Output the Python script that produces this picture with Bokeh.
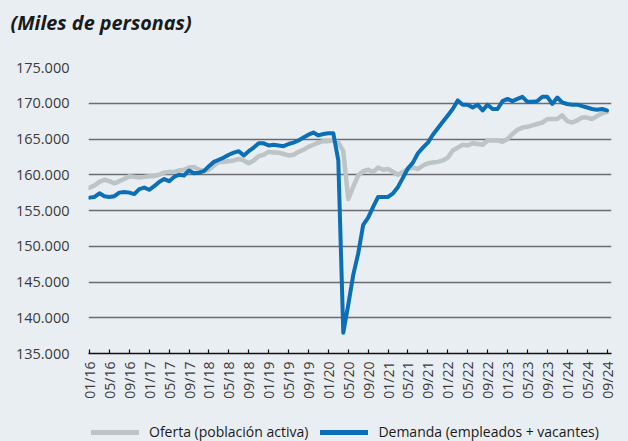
from bokeh.plotting import figure
from bokeh.models import FixedTicker, Legend, LegendItem, Title, Range1d
from bokeh.layouts import column
from bokeh.embed import file_html
from bokeh.resources import INLINE
import math

# Monthly data, 01/16 .. 09/24 (miles de personas)
oferta = [158.2, 158.5, 159.0, 159.3, 159.1, 158.8, 159.1, 159.4, 159.8, 159.7,
          159.6, 159.7, 159.8, 159.8, 160.0, 160.3, 160.4, 160.4, 160.6, 160.7,
          161.0, 161.1, 160.7, 160.6, 160.7, 161.3, 161.8, 161.8, 161.9, 162.0,
          162.2, 162.0, 161.6, 162.0, 162.6, 162.8, 163.2, 163.1, 163.1, 162.9,
          162.7, 162.8, 163.2, 163.5, 163.9, 164.2, 164.5, 164.7, 164.7, 164.8,
          164.5, 163.3, 156.6, 158.3, 159.9, 160.5, 160.7, 160.4, 161.0, 160.7,
          160.8, 160.4, 160.0, 160.4, 160.8, 161.0, 160.8, 161.3, 161.6, 161.7,
          161.8, 162.0, 162.4, 163.4, 163.8, 164.2, 164.1, 164.4, 164.3, 164.2,
          164.8, 164.8, 164.8, 164.6, 165.0, 165.7, 166.3, 166.6, 166.7, 166.9,
          167.1, 167.3, 167.8, 167.8, 167.8, 168.3, 167.5, 167.3, 167.6, 168.0,
          168.0, 167.8, 168.2, 168.6, 168.8]
demanda = [156.8, 156.9, 157.4, 157.0, 156.9, 157.0, 157.5, 157.6, 157.5, 157.3,
           158.0, 158.2, 157.9, 158.4, 159.0, 159.4, 159.1, 159.7, 160.0, 159.9,
           160.6, 160.2, 160.3, 160.5, 161.2, 161.8, 162.1, 162.4, 162.8, 163.1,
           163.3, 162.7, 163.3, 163.8, 164.4, 164.4, 164.1, 164.2, 164.1, 164.0,
           164.3, 164.5, 164.8, 165.2, 165.6, 165.9, 165.5, 165.7, 165.8, 165.8,
           162.0, 137.9, 141.8, 146.0, 149.0, 153.0, 154.0, 155.5, 156.9, 156.9,
           156.9, 157.4, 158.3, 159.6, 160.9, 161.7, 163.0, 163.8, 164.5, 165.6,
           166.5, 167.4, 168.3, 169.2, 170.4, 169.8, 169.8, 169.4, 169.8, 169.0,
           169.8, 169.2, 169.2, 170.3, 170.6, 170.3, 170.6, 170.9, 170.2, 170.2,
           170.3, 170.9, 170.9, 169.9, 170.8, 170.1, 169.9, 169.8, 169.8, 169.6,
           169.4, 169.2, 169.1, 169.2, 169.0]
tick_labels = ["01/16", "05/16", "09/16", "01/17", "05/17", "09/17", "01/18",
               "05/18", "09/18", "01/19", "05/19", "09/19", "01/20", "05/20",
               "09/20", "01/21", "05/21", "09/21", "01/22", "05/22", "09/22",
               "01/23", "05/23", "09/23", "01/24", "05/24", "09/24"]
y_ticks = [135, 140, 145, 150, 155, 160, 165, 170, 175]
y_tick_labels = ["135.000", "140.000", "145.000", "150.000", "155.000",
                 "160.000", "165.000", "170.000", "175.000"]
serie_names = ["Oferta (población activa)", "Demanda (empleados + vacantes)"]
title_text = "(Miles de personas)"

BG = "#e9eef2"
GRAY = "#bcc4c5"
BLUE = "#0a6fb6"
FONT = "Open Sans"

x = list(range(len(oferta)))
tick_pos = [i * 4 for i in range(len(tick_labels))]

p = figure(width=628, height=414, output_backend="svg", toolbar_location=None,
           x_range=(-0.2, 104.9), y_range=(135, 175),
           min_border_left=88, min_border_right=17, min_border_top=67, min_border_bottom=61)
p.background_fill_color = BG
p.border_fill_color = BG
p.outline_line_color = None

# spacer between title and plot area (closest to the frame)
p.add_layout(Title(text=" ", text_font_size="8px", standoff=16), "above")

p.title.text = title_text
p.title.text_font = FONT
p.title.text_font_style = "bold italic"
p.title.text_font_size = "19.8px"
p.title.text_color = "#1a1a1a"
p.title.align = "left"
p.title.vertical_align = "bottom"
p.title.offset = -78
p.title.standoff = 10

p.line(x, oferta, line_color=GRAY, line_width=4.5, line_cap="round", line_join="round")
p.line(x, demanda, line_color=BLUE, line_width=4, line_cap="round", line_join="round")

# x axis
p.xaxis.ticker = FixedTicker(ticks=tick_pos)
p.xaxis.major_label_overrides = {t: l for t, l in zip(tick_pos, tick_labels)}
p.xaxis.major_label_orientation = math.pi / 2
p.xaxis.major_label_text_font = FONT
p.xaxis.major_label_text_font_size = "14px"
p.xaxis.major_label_text_color = "#3a3a3a"
p.xaxis.axis_line_color = "#111111"
p.xaxis.axis_line_width = 1.6
p.xaxis.major_tick_in = 4
p.xaxis.major_tick_out = 0
p.xaxis.major_tick_line_color = "#111111"
p.xaxis.major_tick_line_width = 1.2
p.xaxis.minor_tick_line_color = None
p.xaxis.major_label_standoff = 8
p.xgrid.grid_line_color = None

# y axis
p.yaxis.ticker = FixedTicker(ticks=y_ticks)
p.yaxis.major_label_overrides = {t: l for t, l in zip(y_ticks, y_tick_labels)}
p.yaxis.axis_line_color = None
p.yaxis.major_tick_line_color = None
p.yaxis.major_tick_in = 0
p.yaxis.major_tick_out = 0
p.yaxis.minor_tick_line_color = None
p.yaxis.major_label_text_font = FONT
p.yaxis.major_label_text_font_size = "14.5px"
p.yaxis.major_label_text_color = "#3a3a3a"
p.yaxis.major_label_standoff = 19
p.ygrid.ticker = FixedTicker(ticks=y_ticks)
p.ygrid.grid_line_color = "#6b6d70"
p.ygrid.grid_line_width = 1.3

# legend strip (series drawn outside its visible range, only their legend keys show)
lg = figure(width=628, height=27, output_backend="svg", toolbar_location=None,
            x_range=Range1d(0, 1), y_range=Range1d(0, 1),
            x_axis_location=None, y_axis_location=None,
            min_border_left=0, min_border_right=0, min_border_top=0, min_border_bottom=0)
lg.grid.visible = False
lg.outline_line_color = None
lg.background_fill_color = BG
lg.border_fill_color = BG
k1 = lg.line(x, oferta, line_color=GRAY, line_width=5, line_cap="round")
k2 = lg.line(x, demanda, line_color=BLUE, line_width=5, line_cap="round")
legend = Legend(items=[LegendItem(label=serie_names[0], renderers=[k1]),
                       LegendItem(label=serie_names[1], renderers=[k2])],
                orientation="horizontal", location=(3, 0),
                glyph_width=48, glyph_height=16, label_standoff=10, spacing=12,
                padding=0, margin=0,
                border_line_color=None, background_fill_alpha=0,
                label_text_font=FONT, label_text_font_size="14px",
                label_text_color="#1a1a1a")
lg.add_layout(legend, "center")

layout = column(p, lg, spacing=0)
html = file_html(layout, INLINE)
html = html.replace("<head>", "<head><style>html,body{background:%s;}</style>" % BG, 1)
open("out.html", "w").write(html)
